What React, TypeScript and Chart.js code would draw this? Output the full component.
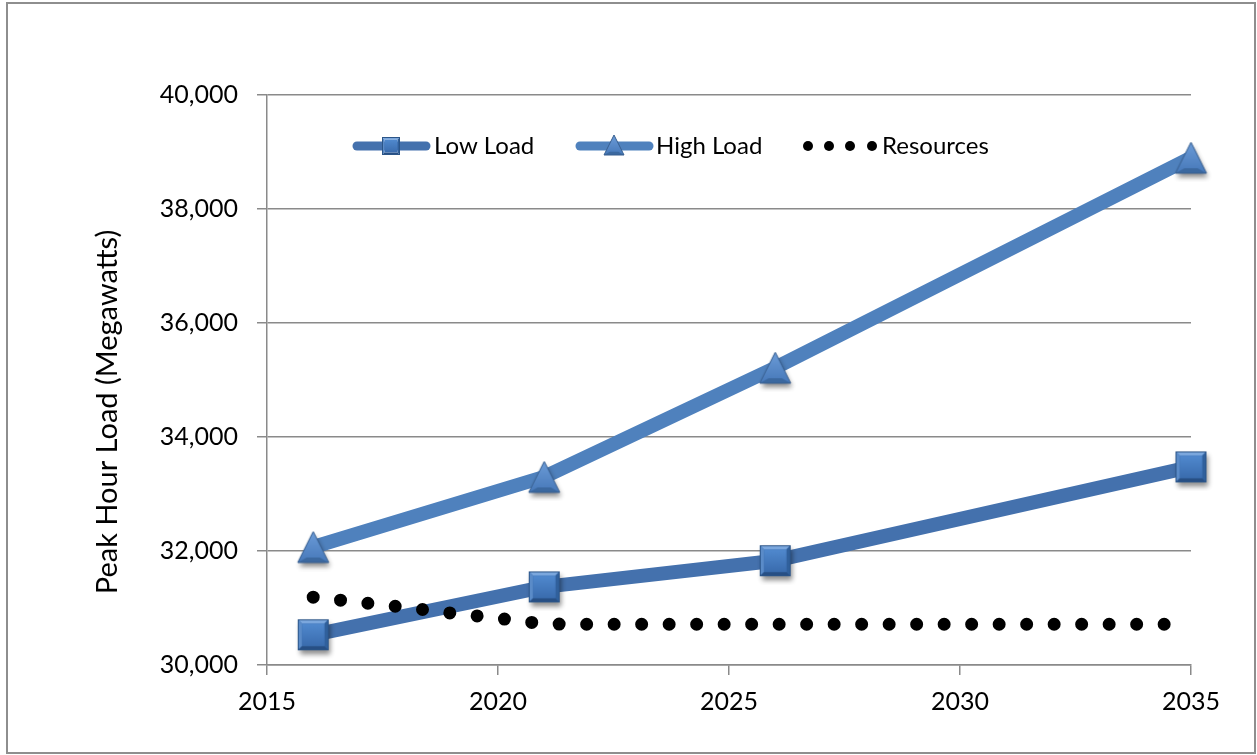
import { useEffect, useRef } from "react";
import { Chart, registerables } from "chart.js";

Chart.register(...registerables);

// Forecast years and peak load scenarios (MW)
const years = [2016, 2021, 2026, 2035];
const lowLoad = [30530, 31370, 31830, 33475];
const highLoad = [32070, 33300, 35215, 38900];

// Annual available resources (MW)
const resourceYears = [
  2016, 2017, 2018, 2019, 2020, 2021, 2022, 2023, 2024, 2025,
  2026, 2027, 2028, 2029, 2030, 2031, 2032, 2033, 2034, 2035,
];
const resources = [
  31190, 31100, 31010, 30910, 30820, 30720, 30715, 30715, 30715, 30715,
  30715, 30715, 30715, 30715, 30715, 30715, 30715, 30715, 30715, 30715,
];

const xTicks = [2015, 2020, 2025, 2030, 2035];
const yTicks = [30000, 32000, 34000, 36000, 38000, 40000];
const seriesNames = ["Low Load", "High Load", "Resources"];
const yTitle = "Peak Hour Load (Megawatts)";

const FONT = "Lato, 'Open Sans', sans-serif";
const LOW_COLOR = "#4471ad";
const HIGH_COLOR = "#4f81bd";
const GRID = "#8a8a8a";

type Pt = [number, number];

function poly(g: CanvasRenderingContext2D, pts: Pt[], color: string | CanvasGradient) {
  g.beginPath();
  g.moveTo(pts[0][0], pts[0][1]);
  for (let i = 1; i < pts.length; i++) g.lineTo(pts[i][0], pts[i][1]);
  g.closePath();
  g.fillStyle = color;
  g.fill();
}

// Bevelled square marker, drawn into its own canvas
function squareMarker(size: number, pad: number, shadow: boolean) {
  const c = document.createElement("canvas");
  c.width = c.height = size + pad * 2;
  const g = c.getContext("2d")!;
  const x0 = pad, y0 = pad, x1 = pad + size, y1 = pad + size;
  if (shadow) {
    g.save();
    g.shadowColor = "rgba(0,0,0,0.45)";
    g.shadowBlur = 5;
    g.shadowOffsetX = 1.5;
    g.shadowOffsetY = 4;
    g.fillStyle = "#3a6cae";
    g.fillRect(x0, y0, size, size);
    g.restore();
  }
  const b = Math.max(2, size * 0.14);
  poly(g, [[x0, y0], [x1, y0], [x1 - b, y0 + b], [x0 + b, y0 + b]], "#7ba7dd");
  poly(g, [[x0, y0], [x0 + b, y0 + b], [x0 + b, y1 - b], [x0, y1]], "#5a8bc8");
  poly(g, [[x1, y0], [x1, y1], [x1 - b, y1 - b], [x1 - b, y0 + b]], "#30609c");
  poly(g, [[x0, y1], [x0 + b, y1 - b], [x1 - b, y1 - b], [x1, y1]], "#274f84");
  const grad = g.createLinearGradient(0, y0 + b, 0, y1 - b);
  grad.addColorStop(0, "#5089ce");
  grad.addColorStop(1, "#3a6cae");
  poly(g, [[x0 + b, y0 + b], [x1 - b, y0 + b], [x1 - b, y1 - b], [x0 + b, y1 - b]], grad);
  g.strokeStyle = "#2b5588";
  g.lineWidth = 1;
  g.strokeRect(x0 + 0.5, y0 + 0.5, size - 1, size - 1);
  return c;
}

// Bevelled triangle marker
function triangleMarker(size: number, pad: number, shadow: boolean) {
  const c = document.createElement("canvas");
  c.width = c.height = size + pad * 2;
  const g = c.getContext("2d")!;
  const apex: Pt = [pad + size / 2, pad];
  const bl: Pt = [pad, pad + size];
  const br: Pt = [pad + size, pad + size];
  if (shadow) {
    g.save();
    g.shadowColor = "rgba(0,0,0,0.45)";
    g.shadowBlur = 5;
    g.shadowOffsetX = 1.5;
    g.shadowOffsetY = 4;
    poly(g, [apex, bl, br], "#4677b8");
    g.restore();
  }
  const grad = g.createLinearGradient(0, pad, 0, pad + size);
  grad.addColorStop(0, "#6c9cd8");
  grad.addColorStop(1, "#4678b9");
  poly(g, [apex, bl, br], grad);
  const b = Math.max(2, size * 0.16);
  poly(g, [bl, br, [br[0] - b * 1.8, br[1] - b], [bl[0] + b * 1.8, bl[1] - b]], "#3b689f");
  g.beginPath();
  g.moveTo(apex[0], apex[1]);
  g.lineTo(bl[0], bl[1]);
  g.lineTo(br[0], br[1]);
  g.closePath();
  g.strokeStyle = "#385f8f";
  g.lineWidth = 1;
  g.stroke();
  return c;
}

export default function App() {
  const ref = useRef<HTMLCanvasElement | null>(null);

  useEffect(() => {
    if (!ref.current) return;
    const sq = squareMarker(31, 9, true);
    const tri = triangleMarker(31, 9, true);
    const sqSmall = squareMarker(18, 1, false);
    const triSmall = triangleMarker(20, 1, false);

    const legendPlugin = {
      id: "lineLegend",
      afterDatasetsDraw(chart: Chart) {
        const ctx = chart.ctx;
        const cy = 146;
        ctx.save();
        ctx.font = `24px ${FONT}`;
        ctx.fillStyle = "#000";
        ctx.textBaseline = "middle";
        ctx.textAlign = "left";
        ctx.lineCap = "round";
        ctx.lineWidth = 9;
        // Low Load
        ctx.strokeStyle = LOW_COLOR;
        ctx.beginPath();
        ctx.moveTo(357, cy);
        ctx.lineTo(426, cy);
        ctx.stroke();
        ctx.drawImage(sqSmall, 391 - sqSmall.width / 2, cy - sqSmall.height / 2);
        ctx.fillText(seriesNames[0], 434, cy);
        // High Load
        ctx.strokeStyle = HIGH_COLOR;
        ctx.beginPath();
        ctx.moveTo(580, cy);
        ctx.lineTo(649, cy);
        ctx.stroke();
        ctx.drawImage(triSmall, 614 - triSmall.width / 2, cy - triSmall.height / 2 - 1);
        ctx.fillText(seriesNames[1], 656, cy);
        // Resources
        ctx.fillStyle = "#000";
        for (const dx of [808, 829, 850, 872]) {
          ctx.beginPath();
          ctx.arc(dx, cy, 5, 0, Math.PI * 2);
          ctx.fill();
        }
        ctx.fillText(seriesNames[2], 882, cy);
        ctx.restore();
      },
    };

    const titlePlugin = {
      id: "yTitle",
      afterDraw(chart: Chart) {
        const ctx = chart.ctx;
        ctx.save();
        ctx.translate(108, 412);
        ctx.rotate(-Math.PI / 2);
        ctx.font = `29px ${FONT}`;
        ctx.fillStyle = "#000";
        ctx.textAlign = "center";
        ctx.textBaseline = "middle";
        ctx.fillText(yTitle, 0, 0);
        ctx.restore();
      },
    };

    const chart = new Chart(ref.current, {
      type: "line",
      data: {
        datasets: [
          {
            label: seriesNames[0],
            data: years.map((x, i) => ({ x, y: lowLoad[i] })),
            borderColor: LOW_COLOR,
            borderWidth: 14,
            borderJoinStyle: "round",
            pointStyle: sq as any,
            pointRadius: 16,
            clip: false,
            order: 1,
          },
          {
            label: seriesNames[1],
            data: years.map((x, i) => ({ x, y: highLoad[i] })),
            borderColor: HIGH_COLOR,
            borderWidth: 14,
            borderJoinStyle: "round",
            pointStyle: tri as any,
            pointRadius: 16,
            clip: false,
            order: 2,
          },
          {
            label: seriesNames[2],
            data: resourceYears.map((x, i) => ({ x, y: resources[i] })),
            borderColor: "#000",
            borderWidth: 13,
            borderCapStyle: "round",
            borderDash: [0, 27.5],
            pointRadius: 0,
            clip: false,
            order: 0,
          },
        ],
      },
      options: {
        responsive: false,
        animation: false,
        layout: { padding: { top: 95, right: 66, left: 0, bottom: 0 } },
        plugins: { legend: { display: false }, tooltip: { enabled: false } },
        scales: {
          x: {
            type: "linear",
            min: xTicks[0],
            max: xTicks[xTicks.length - 1],
            afterFit: (s: any) => { s.height = 90; },
            afterBuildTicks: (s: any) => { s.ticks = xTicks.map((v) => ({ value: v })); },
            ticks: {
              padding: 12,
              color: "#000",
              font: { family: FONT, size: 25 },
              callback: (v: any) => String(v),
            },
            grid: { drawOnChartArea: false, drawTicks: true, tickLength: 10, color: GRID, lineWidth: 1.5 },
            border: { display: true, color: GRID, width: 1.5 },
          },
          y: {
            min: yTicks[0],
            max: yTicks[yTicks.length - 1],
            afterFit: (s: any) => { s.width = 267; },
            afterBuildTicks: (s: any) => { s.ticks = yTicks.map((v) => ({ value: v })); },
            ticks: {
              padding: 19,
              color: "#000",
              font: { family: FONT, size: 25 },
              callback: (v: any) => Number(v).toLocaleString("en-US"),
            },
            grid: { drawTicks: true, tickLength: 10, color: GRID, lineWidth: 1.5 },
            border: { display: true, color: GRID, width: 1.5 },
          },
        },
      },
      plugins: [legendPlugin, titlePlugin],
    });
    return () => chart.destroy();
  }, []);

  return (
    <div style={{ position: "absolute", left: 0, top: 0, width: 1257, height: 755, background: "#fff" }}>
      <canvas ref={ref} width={1257} height={755} style={{ position: "absolute", left: 0, top: 0 }} />
      <div
        style={{
          position: "absolute",
          left: 6,
          top: 2,
          width: 1250,
          height: 752,
          boxSizing: "border-box",
          border: "2px solid #8e8e8e",
          pointerEvents: "none",
        }}
      />
    </div>
  );
}
